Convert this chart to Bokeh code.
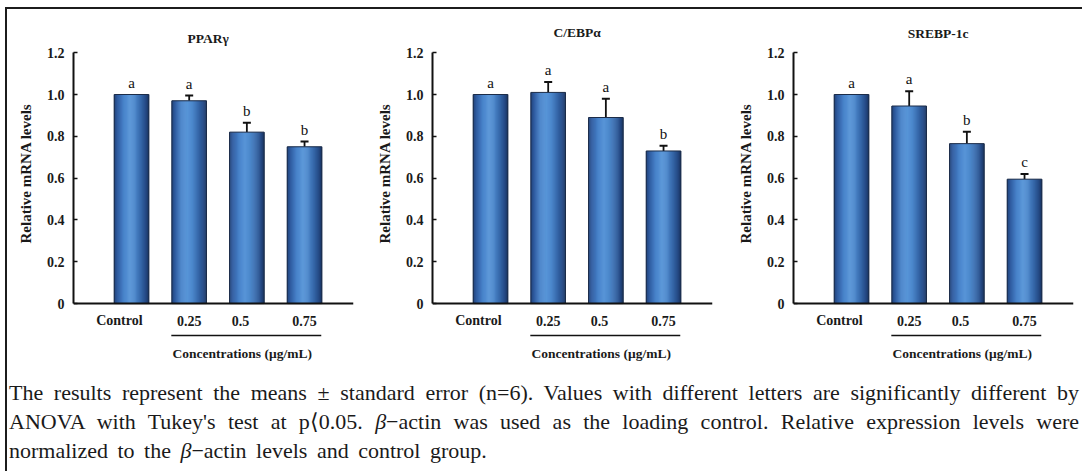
from bokeh.plotting import figure
from bokeh.layouts import row, column
from bokeh.models import (Range1d, FixedTicker, CustomJSTickFormatter, Span,
                          Whisker, TeeHead, ColumnDataSource, Div, Title)
from bokeh.core.properties import value
from bokeh.embed import file_html
from bokeh.resources import INLINE

# ---------------- data ----------------
categories = ["Control", "0.25", "0.5", "0.75"]
genes = ["PPARγ", "C/EBPα", "SREBP-1c"]

pparg_mean = [1.00, 0.97, 0.82, 0.75]
pparg_err = [0.0, 0.025, 0.045, 0.025]
pparg_letters = ["a", "a", "b", "b"]

cebpa_mean = [1.00, 1.01, 0.89, 0.73]
cebpa_err = [0.0, 0.05, 0.09, 0.025]
cebpa_letters = ["a", "a", "a", "b"]

srebp_mean = [1.00, 0.945, 0.765, 0.595]
srebp_err = [0.0, 0.07, 0.057, 0.025]
srebp_letters = ["a", "a", "b", "c"]

y_ticks = [0, 0.2, 0.4, 0.6, 0.8, 1.0, 1.2]
x_axis_title = "Concentrations (μg/mL)"
y_axis_title = "Relative mRNA levels"

caption_lines = [
    "The results represent the means ± standard error (n=6). Values with different letters are significantly different by",
    "ANOVA with Tukey's test at p⟨0.05. <i>β</i>−actin was used as the loading control. Relative expression levels were",
    "normalized to the <i>β</i>−actin levels and control group.",
]

panels = [
    (genes[0], pparg_mean, pparg_err, pparg_letters),
    (genes[1], cebpa_mean, cebpa_err, cebpa_letters),
    (genes[2], srebp_mean, srebp_err, srebp_letters),
]

# ---------------- style ----------------
SERIF = "Liberation Serif"
fig_widths = [360, 360, 362]
left_borders = [73, 72, 73]
title_x = [1.33, 1.5, 1.5]
title_dy = [-14, -20, -19]
label_shift = [-0.21, 0.0, -0.11, 0.0]
BAR_W = 0.6
N_STRIPS = 36

stops = [(0.00, (0x20, 0x40, 0x76)), (0.10, (0x2f, 0x5c, 0xa0)),
         (0.28, (0x48, 0x83, 0xca)), (0.45, (0x58, 0x95, 0xd8)),
         (0.60, (0x4c, 0x88, 0xcc)), (0.78, (0x35, 0x66, 0xa8)),
         (0.92, (0x25, 0x4a, 0x86)), (1.00, (0x1a, 0x35, 0x62))]


def grad_color(t):
    for (t0, c0), (t1, c1) in zip(stops[:-1], stops[1:]):
        if t0 <= t <= t1:
            f = (t - t0) / (t1 - t0) if t1 > t0 else 0
            c = [round(a + (b - a) * f) for a, b in zip(c0, c1)]
            return "#%02x%02x%02x" % tuple(c)
    return "#%02x%02x%02x" % stops[-1][1]


def make_panel(k, gene, means, errs, letters):
    W = fig_widths[k]
    H = 368
    lb = left_borders[k]
    frame_w = 280
    p = figure(width=W, height=H, output_backend="svg", toolbar_location=None,
               x_range=Range1d(-1.006, 3.849), y_range=Range1d(-0.301, 1.354),
               x_axis_type=None, min_border_left=lb, min_border_right=W - lb - frame_w,
               min_border_top=20, min_border_bottom=2)
    p.outline_line_color = None
    p.grid.visible = False
    p.background_fill_color = "white"
    p.border_fill_color = "white"

    xs = list(range(len(categories)))

    # bars with cylindrical shading (strips)
    sw = BAR_W / N_STRIPS
    for s in range(N_STRIPS):
        t = (s + 0.5) / N_STRIPS
        off = -BAR_W / 2 + (s + 0.5) * sw
        p.vbar(x=[x + off for x in xs], top=means, bottom=0, width=sw * 1.6,
               fill_color=grad_color(t), line_color=None)
    p.vbar(x=xs, top=means, bottom=0, width=BAR_W, fill_alpha=0,
           line_color="#1c2c48", line_width=1)

    # error bars (upper only)
    ex = [x for x, e in zip(xs, errs) if e > 0]
    et = [m for m, e in zip(means, errs) if e > 0]
    eu = [m + e for m, e in zip(means, errs) if e > 0]
    src = ColumnDataSource(dict(x=ex, top=et, upper=eu))
    w = Whisker(source=src, base="x", lower="top", upper="upper", dimension="height",
                line_color="#111111", line_width=1.8, lower_head=None,
                upper_head=TeeHead(size=8, line_color="#111111", line_width=2))
    p.add_layout(w)

    # significance letters
    p.text(x=xs, y=[m + e for m, e in zip(means, errs)], text=letters,
           text_font=value(SERIF), text_font_size="15px", text_color="#111111",
           text_align="center", text_baseline="alphabetic", y_offset=-12)

    # baseline (x axis line)
    p.add_layout(Span(location=0, dimension="width", line_color="#111111", line_width=2))

    # category labels
    p.text(x=[x + s for x, s in zip(xs, label_shift)], y=[0] * len(xs), text=categories,
           text_font=value(SERIF), text_font_style="bold", text_font_size="14px",
           text_color="#1a1a1a", text_align="center", text_baseline="middle", y_offset=17)

    # concentration bracket + label
    p.line(x=[xs[1] - 0.31, xs[-1] + 0.29], y=[-0.153, -0.153],
           line_color="#111111", line_width=1.6)
    p.text(x=[1.92], y=[0], text=[x_axis_title], text_font=value(SERIF),
           text_font_style="bold", text_font_size="13.5px", text_color="#1a1a1a",
           text_align="center", text_baseline="middle", y_offset=50)

    # panel title
    p.text(x=[title_x[k]], y=[y_ticks[-1]], text=[gene], text_font=value(SERIF),
           text_font_style="bold", text_font_size="13.5px", text_color="#1a1a1a",
           text_align="center", text_baseline="middle", y_offset=title_dy[k])

    ax = p.yaxis[0]
    ax.bounds = (0, 1.2)
    ax.ticker = FixedTicker(ticks=y_ticks)
    ax.formatter = CustomJSTickFormatter(code="return tick == 0 ? '0' : tick.toFixed(1);")
    ax.major_tick_in = 4
    ax.major_tick_out = 0
    ax.minor_tick_in = 0
    ax.minor_tick_out = 0
    ax.axis_line_width = 2
    ax.axis_line_color = "#111111"
    ax.major_tick_line_color = "#111111"
    ax.major_tick_line_width = 1.5
    ax.major_label_text_font = SERIF
    ax.major_label_text_font_style = "bold"
    ax.major_label_text_font_size = "14px"
    ax.major_label_text_color = "#1a1a1a"
    ax.major_label_standoff = 9

    # y axis title (as a side title so it can sit over the drawn part of the axis)
    ytitle = Title(text=y_axis_title, align="left", offset=123, standoff=20,
                   text_font=SERIF, text_font_style="bold", text_font_size="15px",
                   text_color="#1a1a1a")
    p.add_layout(ytitle, "left")
    return p


figs = [make_panel(k, *pn) for k, pn in enumerate(panels)]

lines_html = "".join(
    f'<div style="text-align:justify;text-align-last:{"justify" if i < len(caption_lines) - 1 else "left"};">{ln}</div>'
    for i, ln in enumerate(caption_lines))

caption_html = (
    '<div style="position:fixed;left:5px;top:7px;width:2000px;height:2000px;'
    'border-top:2px solid #1c1c1c;border-left:2px solid #1c1c1c;pointer-events:none;"></div>'
    '<div style="font-family:Liberation Serif,Times New Roman,serif;font-size:22px;line-height:29px;color:#1a1a1a;'
    'word-spacing:4px;width:1070px;margin-left:9px;padding-top:10px;">'
    f'{lines_html}</div>'
)

cap = Div(text=caption_html, width=1082, height=103, margin=0,
          styles={"overflow": "hidden"})

layout = column(row(*figs, spacing=0), cap, spacing=0)

html = file_html(layout, INLINE, title="mRNA levels")
html = html.replace("<body>", '<body style="margin:0;padding:0;overflow:hidden;">')
open("out.html", "w").write(html)
